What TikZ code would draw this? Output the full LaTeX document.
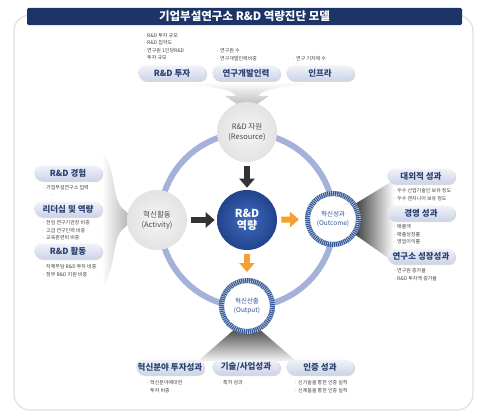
\documentclass[tikz,border=0pt]{standalone}
\usepackage{fontspec}
\setmainfont{Noto Sans CJK KR}
\usepackage{tikz}
\usetikzlibrary{arrows.meta,shadows}

\definecolor{navy}{HTML}{1D3466}
\definecolor{pilltext}{HTML}{2C4170}
\definecolor{ringcol}{HTML}{A4B1D9}
\definecolor{hatch}{HTML}{2F5496}
\definecolor{orangearr}{HTML}{F5A030}
\definecolor{coreinner}{HTML}{3F6CC0}
\definecolor{coreouter}{HTML}{22438C}

\begin{document}
\begin{tikzpicture}[x=1pt,y=-1pt,>={Triangle[length=9pt,width=15pt]},semithick]

    \tikzstyle{pill}=[rounded corners=7pt,minimum width=67pt,minimum height=15pt,inner sep=1pt,
      top color=white!85!ringcol,bottom color=ringcol!55,text=pilltext,
      font=\bfseries\fontsize{8.5}{9}\selectfont,
      drop shadow={shadow xshift=1.5pt,shadow yshift=-1.5pt,fill=gray!60}]
    \tikzstyle{bul}=[anchor=north west,align=left,inner sep=0pt,text=black!75,font=\fontsize{5}{7.3}\selectfont]
    \tikzstyle{graynode}=[circle,minimum size=60pt,inner sep=0pt,inner color=gray!8,outer color=gray!22,
      align=center,text=black!70,font=\fontsize{7.5}{10}\selectfont]
    \tikzstyle{ringnode}=[circle,minimum size=51pt,inner sep=0pt,fill=white,draw=hatch,line width=5pt,
      postaction={draw=hatch!35,line width=5pt,dash pattern=on 0.7pt off 1.3pt},
      align=center,text=hatch,font=\fontsize{6.5}{9}\selectfont]
    \tikzstyle{darkarr}=[->,line width=6pt,gray!40!black,shorten <=4pt,shorten >=2pt]
    \tikzstyle{orarr}=[->,line width=6pt,orangearr,shorten <=4pt,shorten >=6pt]

    \useasboundingbox (0,0) rectangle (485,420);
    \draw[gray!25,line width=1.2pt,rounded corners=16pt] (14,15) rectangle (473,410);
    \node (title) at (244.5,16.5) [fill=navy,rounded corners=1.5pt,minimum width=435pt,minimum height=17pt,
      text=white,font=\bfseries\fontsize{11.5}{12}\selectfont] {기업부설연구소 R\&D 역량진단 모델};

    % big ring
    \draw[ringcol,line width=6pt] (247,220) circle (87);

    % funnels
    \shade[top color=white,bottom color=gray!65] (138,82) .. controls (200,84) and (232,88) .. (236,96)
      -- (225,96) -- (247,111) -- (269,96) -- (258,96) .. controls (262,88) and (294,84) .. (356,82) -- cycle;
    \shade[left color=white,right color=gray!70] (102,150) .. controls (116,170) and (112,195) .. (121,207)
      -- (134,219) -- (121,231) .. controls (112,243) and (116,268) .. (102,288) -- cycle;
    \shade[left color=gray!30!black,right color=white] (350,207) -- (394,180) -- (394,262) -- (350,231) -- cycle;
    \shade[top color=gray!55!black,bottom color=gray!8] (236,328) -- (258,328) -- (296,361) -- (198,361) -- cycle;

    % circles
    \node[graynode] (res) at (247,132) {R\&D 자원\\(Resource)};
    \node[graynode] (act) at (157,220) {혁신활동\\(Activity)};
    \node[ringnode] (outc) at (333,219) {혁신성과\\(Outcome)};
    \node[ringnode] (outp) at (247,306) {혁신산출\\(Output)};
    \node (core) at (247,220) [circle,minimum size=60pt,inner sep=0pt,inner color=coreinner,outer color=coreouter,
      text=white,align=center,font=\bfseries\fontsize{11}{12.5}\selectfont] {R\&D\\역량};

    \draw[darkarr] (res) -- (core);
    \draw[darkarr] (act) -- (core);
    \draw[orarr] (core) -- (outc);
    \draw[orarr] (core) -- (outp);

    % top
    \node[pill] (inv) at (172,73) {R\&D 투자};
    \node[pill] (hr) at (246,73) {연구개발인력};
    \node[pill] (infra) at (320,73) {인프라};
    \node[bul] (b1) at (143,33) {· R\&D 투자 규모\\· R\&D 집약도\\· 연구원 1인당R\&D\\\phantom{· }투자 규모};
    \node[bul] (b2) at (216,48.5) {· 연구원 수\\· 연구개발인력비중};
    \node[bul] (b3) at (292,56) {· 연구 기자재 수};

    % left
    \node[pill] (exp) at (68,173) {R\&D 경험};
    \node[pill] (lead) at (68,209) {리더십 및 역량};
    \node[pill] (act2) at (68,251) {R\&D 활동};
    \node[bul] (b4) at (42,185.5) {· 기업부설연구소 업력};
    \node[bul] (b5) at (50,194) {·};
    \node[bul] (b6) at (42,220.5) {· 전임 연구기관장 비중\\· 고급 연구인력 비중\\· 교육훈련비 비중};
    \node[bul] (b7) at (42,264.5) {· 자체부담 R\&D 투자 비중\\· 정부 R\&D 지원 비중};

    % right
    \node[pill] (ext) at (421,176) {대외적 성과};
    \node[pill] (mgmt) at (421,213) {경영 성과};
    \node[pill] (grow) at (421,256) {연구소 성장성과};
    \node[bul] (b8) at (393,188.5) {· 우수 산업기술인 보유 정도\\· 우수 엔지니어 보유 정도};
    \node[bul] (b9) at (393,224.5) {· 매출액\\· 매출성장률\\· 영업이익률};
    \node[bul] (b10) at (393,268.5) {· 연구원 증가율\\· R\&D 투자액 증가율};

    % bottom
    \node[pill] (innov) at (170,367) {혁신분야 투자성과};
    \node[pill] (tech) at (246,367) {기술/사업성과};
    \node[pill] (cert) at (320,367) {인증 성과};
    \node[bul] (b11) at (146,380.5) {· 혁신분야에대한\\\phantom{· }투자 비중};
    \node[bul] (b12) at (219,380.5) {· 특허 성과};
    \node[bul] (b13) at (294,380.5) {· 신기술을 통한 인증 실적\\· 신제품을 통한 인증 실적};
    
\end{tikzpicture}
\end{document}
